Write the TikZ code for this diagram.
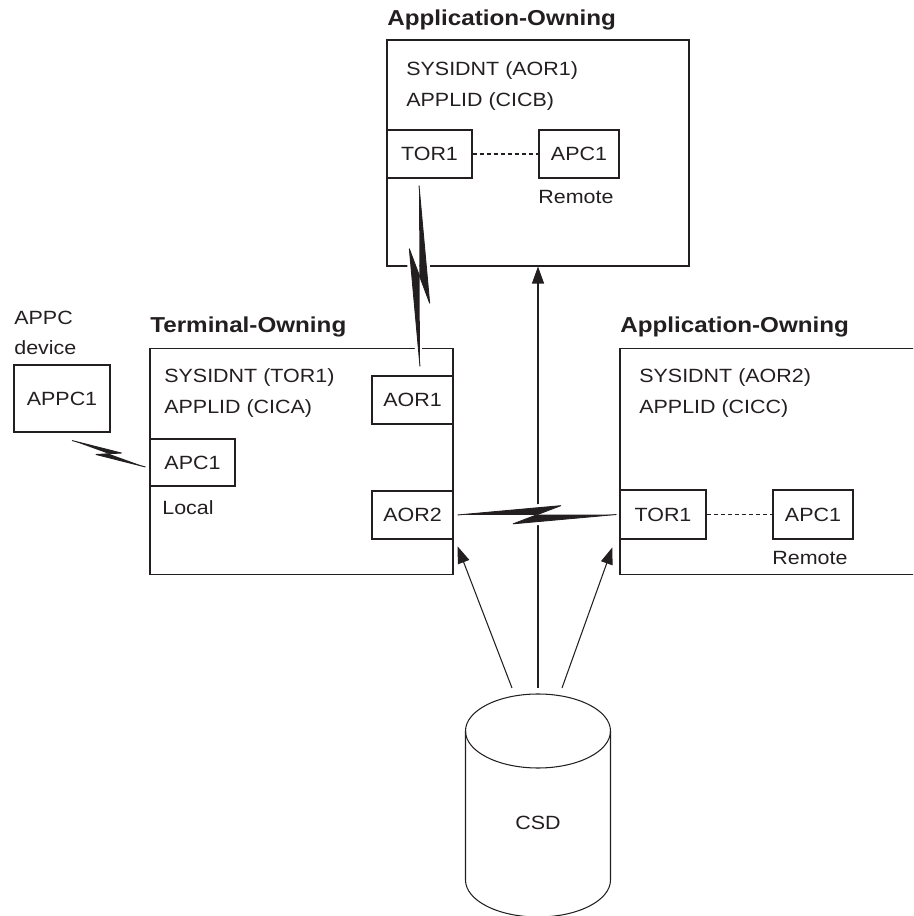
\documentclass[tikz,border=0pt]{standalone}
\usepackage{fontspec}
\setmainfont{Liberation Sans}[FakeStretch=1.12]
\usepackage{tikz}
\usetikzlibrary{arrows.meta,positioning,calc}
\definecolor{ibmink}{HTML}{231F20}
% lightning link: from, to, zig offset
\newcommand{\zap}[3]{%
  \coordinate (zA) at (#1);
  \coordinate (zB) at (#2);
  \coordinate (zP) at ($(zA)!0.65!(zB)!#3!90:(zB)$);
  \coordinate (zQ) at ($(zA)!0.35!(zB)!#3!-90:(zB)$);
  \coordinate (zM) at ($(zA)!0.5!(zB)$);
  \draw[white,line width=4pt,line join=round] (zA) -- (zP) -- (zQ) -- (zB);
  \fill[ibmink] (zA) -- (zP) -- (zM) -- cycle;
  \fill[ibmink] (zB) -- (zQ) -- (zM) -- cycle;
  \draw[ibmink,line width=0.5pt,line join=round] (zA) -- (zP) -- (zQ) -- (zB);
}
\tikzset{
  region/.style={draw=ibmink,line width=0.6pt,inner sep=0pt,minimum height=4.53cm},
  tbox/.style={draw=ibmink,line width=0.6pt,inner sep=0pt,minimum height=0.96cm,minimum width=#1},
  heading/.style={font=\fontsize{12.3}{14}\selectfont\bfseries,anchor=base west,inner sep=0pt},
  lbl/.style={anchor=base west,inner sep=0pt}
}

\begin{document}
\begin{tikzpicture}[>={Triangle[length=3.4mm,width=2.4mm]},
    font=\fontsize{10.9}{17.6}\selectfont,text=ibmink]
    \useasboundingbox (0,0) rectangle (18.26,18.32);
    \clip (0,0) rectangle (18.26,18.32);

    % regions
    \node[region,minimum width=6.04cm,minimum height=4.52cm] (aorbig) at (10.76,15.26) {};
    \node[region,minimum width=6.06cm] (torbig) at (6.03,9.09) {};
    \node[region,minimum width=7cm] (aortwobig) at (15.9,9.09) {};

    \node[heading] (headaor) at (7.74,17.8)  {Application-Owning};
    \node[heading] (headtor) at (3.0,11.67)  {Terminal-Owning};
    \node[heading] (headaortwo) at (12.4,11.67) {Application-Owning};

    \node[lbl] (sysaor)  at (8.12,16.8)   {SYSIDNT (AOR1)};
    \node[lbl] (appaor)  at (8.12,16.18)  {APPLID (CICB)};
    \node[lbl] (systor)  at (3.28,10.66)  {SYSIDNT (TOR1)};
    \node[lbl] (apptor)  at (3.28,10.04)  {APPLID (CICA)};
    \node[lbl] (sysaortwo) at (12.78,10.66) {SYSIDNT (AOR2)};
    \node[lbl] (appaortwo) at (12.78,10.04) {APPLID (CICC)};

    % connection entries
    \node[tbox=1.70cm] (tora) at (8.59,15.24)  {TOR1};
    \node[tbox=1.60cm] (apca) at (11.58,15.24) {APC1};
    \node[lbl] (remotea) at (10.76,14.24) {Remote};

    \node[tbox=1.62cm] (aorone) at (8.25,10.32) {AOR1};
    \node[tbox=1.62cm] (aortwo) at (8.25,8.02)  {AOR2};
    \node[tbox=1.70cm,minimum height=0.94cm] (apcl) at (3.85,9.07) {APC1};
    \node[lbl] (local) at (3.24,8.02) {Local};

    \node[tbox=1.72cm,minimum height=0.98cm] (torb) at (13.26,8.03) {TOR1};
    \node[tbox=1.60cm,minimum height=0.98cm] (apcb) at (16.26,8.03) {APC1};
    \node[lbl] (remoteb) at (15.44,7.02) {Remote};

    % device
    \node[lbl] (appclbl) at (0.28,11.83) {APPC};
    \node[lbl] (devlbl)  at (0.28,11.22) {device};
    \node[tbox=1.92cm,minimum height=1.34cm] (appc) at (1.24,10.35) {APPC1};

    \draw[ibmink,line width=0.6pt,dash pattern=on 2.3pt off 1.7pt] (tora) -- (apca);
    \draw[ibmink,line width=0.6pt,dash pattern=on 2.3pt off 1.7pt] (torb) -- (apcb);

    % CSD
    \coordinate (csdtop) at (10.76,4.44);
    \node (csd) at (10.76,1.86) {CSD};
    \draw[ibmink,line width=0.6pt] ($(csdtop)+(0,-0.74)$) ellipse (1.45 and 0.74);
    \draw[ibmink,line width=0.6pt] ($(csdtop)+(-1.45,-0.74)$) -- ++(0,-2.98)
      arc[start angle=180,end angle=360,x radius=1.45,y radius=0.74] -- ++(0,2.98);

    \coordinate (feedl) at ($(csdtop)+(-0.52,0.12)$);
    \coordinate (feedm) at ($(csdtop)+(0,0.12)$);
    \coordinate (feedr) at ($(csdtop)+(0.48,0.12)$);
    \draw[->,ibmink,line width=0.6pt] (feedm) -- (aorbig.south);
    \draw[->,ibmink,line width=0.6pt] (feedl) -- ($(torbig.south east)+(0.08,0.58)$);
    \draw[->,ibmink,line width=0.6pt] (feedr) -- ($(aortwobig.south west)+(-0.14,0.56)$);

    % links
    \zap{$(tora.south)+(-0.21,-0.14)$}{$(aorone.north)+(0.15,0.18)$}{0.2cm}
    \zap{$(aortwo.east)+(0.08,0)$}{$(torb.west)+(-0.06,0)$}{0.18cm}
    \zap{$(appc.south)+(0.2,-0.16)$}{$(apcl.west)+(-0.08,-0.09)$}{0.1cm}
  \end{tikzpicture}
\end{document}
